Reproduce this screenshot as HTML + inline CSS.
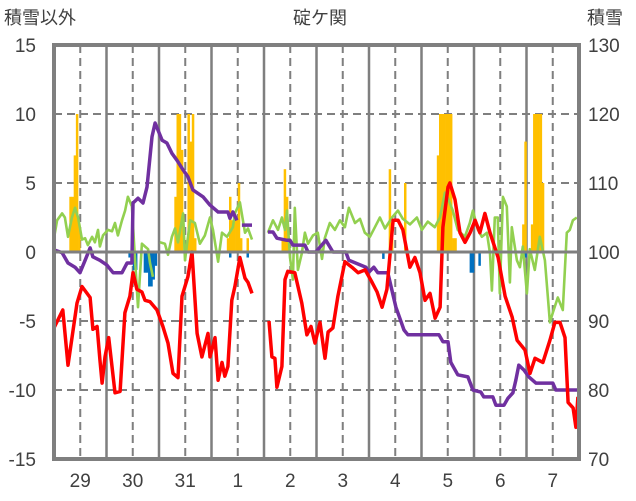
<!DOCTYPE html>
<html><head><meta charset="utf-8">
<style>
html,body{margin:0;padding:0;background:#fff;}
svg{display:block;font-family:"Liberation Sans","Noto Sans CJK JP",sans-serif;}
</style></head>
<body>
<svg id="chart" width="636" height="501" viewBox="0 0 636 501">
<text x="320" y="24" font-size="18" fill="#404040" text-anchor="middle">碇ケ関</text>
<text x="4" y="24" font-size="18" fill="#404040">積雪以外</text>
<text x="587" y="24" font-size="18" fill="#404040">積雪</text>
<g id="grid"></g>
<g id="bars"></g>
<g id="lines"></g>
<g id="frame"></g>
<g id="labels"></g>
</svg>
<script>
const leftTicks=[15,10,5,0,-5,-10,-15];
const rightTicks=[130,120,110,100,90,80,70];
const dayLabels=["29","30","31","1","2","3","4","5","6","7"];
// temperature (red, left axis): [hour, value]; null = gap
const tempSeries=[[0,-5.5],[4,-4.2],[6.4,-8.2],[10.5,-3.7],[12.8,-2.5],[16.5,-3.3],[17.8,-5.6],[19.7,-5.4],[21,-7.8],[22,-9.5],[23.3,-7.6],[25,-6.2],[27.9,-10.2],[30.2,-10.1],[32.4,-4.4],[34.7,-3.2],[36.1,-1.5],[37.9,-2.7],[40.2,-2.9],[41.6,-3.5],[43.9,-3.6],[47.1,-4.2],[49.8,-5.4],[52.1,-6.6],[54.4,-8.8],[56.7,-9.1],[58.5,-3.2],[61.2,-1.8],[63.1,0],[65.4,-5.9],[67.6,-7.6],[70.4,-5.9],[71.3,-7.6],[73.6,-6.2],[75,-9.3],[76.8,-8],[78.1,-9],[79.5,-8.3],[81.3,-3.5],[82.7,-2.5],[85,-0.4],[87.3,-1.9],[88.7,-2.2],[90.5,-3],null,[98.3,-5],[99.6,-7.6],[101,-7.7],[101.9,-9.8],[104.2,-8.3],[105.6,-2],[106.9,-1.4],[110.1,-1.5],[113.3,-3.7],[115.6,-6],[117.5,-5.4],[119.3,-6.6],[121.6,-5.1],[123.9,-7.7],[125.3,-5.8],[127.5,-5.5],[129.8,-3.2],[133,-0.7],[136.2,-1.1],[139,-1.5],[142.2,-1.3],[145.4,-2.2],[147.7,-2.9],[150,-4],[152.2,-2.7],[155,2.3],[157.3,2.3],[159.5,1.6],[162.7,-1.1],[165,-0.4],[167.3,-1.5],[169.6,-3.5],[171.9,-3],[174.2,-4.8],[176.5,-4],[177.8,1.8],[180.1,4.7],[181,5],[183.3,3.8],[185.6,1.4],[187.9,0.7],[190.2,1.4],[192.5,2.3],[194.7,1.4],[197,2.8],[199.3,1.4],[203,-0.4],[206.2,-3.2],[209.4,-4.7],[211.7,-6.4],[215.3,-7.1],[217.6,-8.8],[219.9,-7.7],[223.5,-8],[226.7,-6.4],[229,-5.1],[231.3,-5.1],[233.6,-6.2],[235,-10.9],[237.3,-11.3],[238.6,-12.7],[239.5,-10.5]];
// green series (left axis)
const greenSeries=[[0,1],[1.4,2.3],[3.7,2.8],[5,2.5],[6.4,1.1],[8.2,2.5],[9.6,3.2],[11,2.5],[12.8,0.9],[14.2,1],[15.5,0.5],[17.4,1.1],[18.7,0.7],[20.1,1.6],[21,0.4],[22.4,1.2],[24.7,1.6],[26.5,1.5],[27.9,2.1],[29.2,1.2],[31.1,2.3],[32.5,3],[33.8,4],[35.6,3.3],[37,-0.4],[38.4,-4],[40.2,0.6],[41.6,0.4],[43,0.2],[43.9,-0.8],[45.2,-1.8],null,[48.4,0.7],[50.7,0.6],[52.1,-0.2],[53.9,1.1],[55.3,1.7],[56.7,0.7],[59,2.8],[59.9,-0.6],[62.2,2.3],[64.4,2.1],[66.7,0.6],[69,1.2],[71.3,2.5],[72.7,1.6],[75,-0.7],[76.8,1.4],[79.1,1.1],[81.8,1.8],[82.7,2.8],[85,3.6],[87.3,1.4],[88.7,1.7],[90.5,0.9],null,[97.8,1.4],[100.1,2.3],[102.4,1.6],[104.2,2.5],[105.6,1.6],[106.5,3],[107.9,-0.4],[109.2,-2],[110.1,3.2],[111.5,-1.3],[113.3,-0.1],[114.7,1.4],[116.1,0.6],[118.4,1.2],[120.6,1.4],[122.5,-0.5],[123.8,1],[126.1,2.1],[128.4,1.6],[130.7,2.3],[133,1.8],[134.8,3.2],[137.6,2.1],[139.9,2.4],[142.1,1.4],[144.4,1.1],[146.7,1.8],[149,2.5],[151.3,1.7],[154.5,2.5],[157.2,3],[159.5,2.4],[162.7,2],[165.9,2.5],[168.2,1.6],[170.9,2.2],[174.1,1.8],[176.4,2.5],[178.7,4.3],[180.1,3.9],[182.3,3],[184.6,1.6],[187.8,1.1],[190.1,2.1],[191.5,3],[193.8,1.6],[195.6,1.1],[197.9,1.4],[199.3,-0.1],[200.2,-2.8],[201.5,2.5],[202.9,2.5],[203.8,-3],[205.2,4],[207,3.3],[208.4,-2.2],[209.3,1.8],[211.6,-0.6],[213,-1.1],[214.3,0.4],[216.2,-3],[217.5,0.2],[219.8,-1.3],[222.1,1.1],[224.4,-0.6],[226.7,-5.1],[228,-4.4],[230.3,-3.3],[232.6,-4.2],[234.4,1.4],[235.8,1.6],[237.2,2.3],[239,2.5]];
// snow depth (purple, right axis)
const depthSeries=[[0,100.3],[3.7,99.9],[6.4,98.4],[9.6,97.8],[11.9,97],[14.2,98.8],[16.5,100.6],[17.8,99.3],[21,98.8],[24.2,98.1],[27,97],[31.1,97],[33.4,98.4],[35.6,98.4],[36.1,107.1],[38.4,107.8],[40.7,107.1],[42.5,109.4],[44.8,116.7],[46.2,118.7],[49.4,116.2],[51.6,115.8],[53.9,114.3],[56.2,113.3],[59,111.9],[61.2,110.9],[63.5,109],[68.1,108],[71.3,106.8],[75,105.8],[79.5,105.8],[80.4,104.9],[81.8,105.8],[83.6,104.6],null,[85.9,103.9],[90.5,103.9],null,[97.8,102.9],[100.1,102.9],[101.9,102],[106.5,101.7],[107.9,101.7],[109.2,101],[114.7,101],[116.1,100],[119.7,100],[124.3,101.7],[127.5,100],[133.4,100],[134.8,98.8],[142.6,97.8],[144,97.1],[146.2,97.8],[148,97],[152.6,97],[156.3,92],[160,88.7],[161.8,88],[176,88],[177.8,87],[180.1,87],[181.4,84],[184.6,82.2],[189.2,81.9],[191.5,80],[195.1,79.7],[196.5,79],[200.6,79],[202,77.8],[205.7,77.8],[207.5,78.8],[209.8,79.6],[211.1,81.4],[212.5,83.6],[214.8,82.9],[217.1,81.9],[220.3,81],[228,81],[229.4,80],[239.5,80]];
// hourly snowfall (orange) and negative bars (blue): [hour, value]
const snowBars=[[7,4],[8,4],[9,7],[10,10],[11,2],[55,4],[56,10],[57,10],[58,7.4],[61,10],[62,8],[63,10],[64,1],[79,1],[80,4],[81,2.3],[82,2.3],[83,2.3],[84,5],[85,1],[88,1],[104,1],[105,6],[106,4],[107,1],[153,6],[154,1],[160,5],[175,7],[176,10],[177,10],[178,10],[179,10],[180,10],[181,10],[182,1],[183,1],[214,2],[215,8],[218,2],[219,10],[220,10],[221,10],[222,10],[223,5]];
const negBars=[[17,-0.4],[34,-0.4],[36,-1.3],[37,-1.3],[41,-1.5],[42,-1.5],[43,-2.5],[44,-2.5],[45,-2],[46,-1],[80,-0.4],[88,-0.4],[150,-0.5],[190,-1.5],[191,-1.5],[194,-1],[215,-0.4]];

const NS="http://www.w3.org/2000/svg";
const X0=54,X1=579,YT=45,YB=459;
function xS(h){return X0+h*(X1-X0)/240;}
function yL(v){return YT+(15-v)*(YB-YT)/30;}
function yR(d){return YT+(130-d)*(YB-YT)/60;}
function mk(tag,attrs,parent){const e=document.createElementNS(NS,tag);for(const k in attrs)e.setAttribute(k,attrs[k]);parent.appendChild(e);return e;}
const grid=document.getElementById('grid'),bars=document.getElementById('bars'),lines=document.getElementById('lines'),frame=document.getElementById('frame'),labels=document.getElementById('labels');

leftTicks.forEach((t,i)=>{
  if(t!==15&&t!==-15&&t!==0){const l=mk('line',{x1:X0,x2:X1,y1:yL(t),y2:yL(t),stroke:'#7f7f7f','stroke-width':2,'stroke-dasharray':'8,5'},grid);
  
  }
  const tx=mk('text',{x:36,y:yL(t)+7,'font-size':19,fill:'#404040','text-anchor':'end'},labels);
  tx.textContent=t;
  
  
  const rx=mk('text',{x:588,y:yR(rightTicks[i])+7,'font-size':19,fill:'#404040'},labels);
  rx.textContent=rightTicks[i];
  
  
});
dayLabels.forEach((d,i)=>{
  const h=12+24*i;
  const l=mk('line',{x1:xS(h),x2:xS(h),y1:YT,y2:YB,stroke:'#7f7f7f','stroke-width':2,'stroke-dasharray':'8,5'},grid);
  
  
  if(i>0){const s=mk('line',{x1:xS(24*i),x2:xS(24*i),y1:YT,y2:YB,stroke:'#7f7f7f','stroke-width':2.5},grid);
  
  }
  const tx=mk('text',{x:xS(h),y:487,'font-size':19,fill:'#404040','text-anchor':'middle'},labels);
  tx.textContent=d;
  
  
});
const bw=(X1-X0)/240+0.3;
snowBars.forEach(b=>{
  const r=mk('rect',{x:xS(b[0]),y:yL(b[1]),width:bw,height:yL(0)-yL(b[1]),fill:'#ffc000'},bars);
  
  
});
negBars.forEach(b=>{
  const r=mk('rect',{x:xS(b[0]),y:yL(0),width:bw,height:yL(b[1])-yL(0),fill:'#0070c0'},bars);
  
  
});
function path(series,ys){let d='',pen=false;series.forEach(p=>{if(p===null){pen=false;return;}d+=(pen?'L':'M')+xS(p[0]).toFixed(1)+','+ys(p[1]).toFixed(1);pen=true;});return d;}
const g=mk('path',{d:path(greenSeries,yL),fill:'none',stroke:'#92d050','stroke-width':2.6,'stroke-linejoin':'round'},lines);


const p=mk('path',{d:path(depthSeries,yR),fill:'none',stroke:'#7030a0','stroke-width':3.5,'stroke-linejoin':'round'},lines);


const r=mk('path',{d:path(tempSeries,yL),fill:'none',stroke:'#ff0000','stroke-width':3.5,'stroke-linejoin':'round'},lines);


const z=mk('line',{x1:X0,x2:X1,y1:yL(0),y2:yL(0),stroke:'#7f7f7f','stroke-width':3},frame);


const f=mk('rect',{x:X0,y:YT,width:X1-X0,height:YB-YT,fill:'none',stroke:'#7f7f7f','stroke-width':4},frame);


</script>
</body></html>
